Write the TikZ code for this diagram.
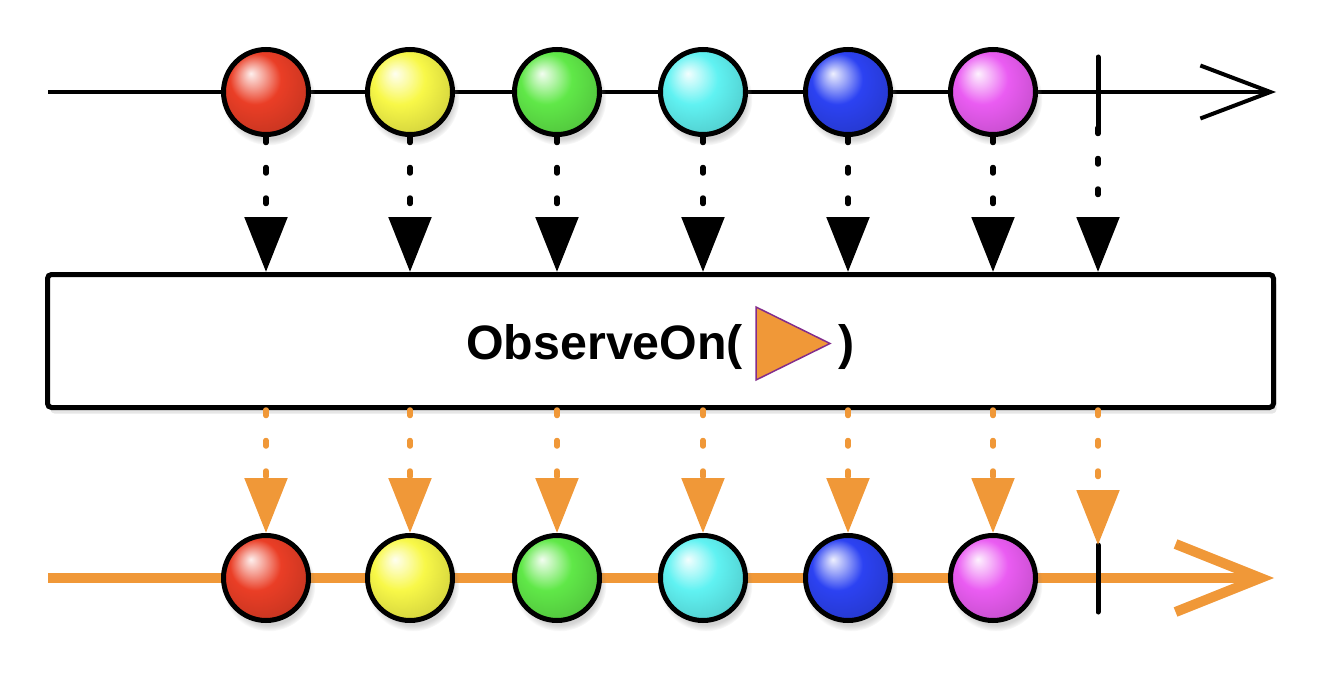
\documentclass[tikz,border=0pt]{standalone}
\usepackage{fontspec}
\setmainfont{Liberation Sans}
\usepackage{tikz}
\usetikzlibrary{arrows.meta,positioning,shadows}
\definecolor{sched}{RGB}{240,152,56}
\definecolor{schedrim}{RGB}{130,45,140}
\definecolor{bred}{RGB}{234,62,38}
\definecolor{byellow}{RGB}{248,248,72}
\definecolor{bgreen}{RGB}{96,232,72}
\definecolor{bcyan}{RGB}{96,242,242}
\definecolor{bblue}{RGB}{44,66,242}
\definecolor{bmagenta}{RGB}{234,92,242}
\colorlet{bcol}{red}
\pgfdeclareradialshading[bcol]{glossy}{\pgfqpoint{-9bp}{11bp}}{%
  color(0bp)=(bcol!8!white); color(7bp)=(bcol!50!white); color(15bp)=(bcol);
  color(28bp)=(bcol!88!black); color(40bp)=(bcol!65!black); color(50bp)=(bcol!60!black)}

\begin{document}
\begin{tikzpicture}[
  b/.style={circle, draw, line width=1mm, minimum size=17mm, inner sep=0pt,
    /utils/exec={\colorlet{bcol}{#1}}, shading=glossy,
    circular drop shadow={shadow xshift=0.5mm, shadow yshift=-1.2mm, opacity=0.35}},
  op/.style={draw, line width=1mm, rounded corners=0.8mm, fill=white,
    minimum width=24.52cm, minimum height=2.66cm,
    drop shadow={shadow xshift=0.6mm, shadow yshift=-1.2mm, opacity=0.2}},
  flow/.style={line width=1.1mm, dash pattern=on 1.1mm off 5mm, line cap=round,
    -{Triangle[length=11mm,width=8.4mm]}},
  stop/.style={line width=1mm, line cap=round},
  big/.style={font=\bfseries\fontsize{27.5}{30}\selectfont, inner sep=0pt, anchor=base west}
]
  \useasboundingbox (0,0) rectangle (26.56,-13.8);

  % source timeline
  \draw[line width=0.8mm, -{Straight Barb[length=14mm,width=10.6mm]}] (0.96,-1.84) -- (25.52,-1.84);
  \draw[stop] (21.96,-1.14) -- (21.96,-2.56) coordinate (inEnd);
  \node[b=bred]     (in1) at (5.32,-1.84) {};
  \node[b=byellow]  (in2) at (8.2,-1.84) {};
  \node[b=bgreen]   (in3) at (11.14,-1.84) {};
  \node[b=bcyan]    (in4) at (14.06,-1.84) {};
  \node[b=bblue]    (in5) at (16.96,-1.84) {};
  \node[b=bmagenta] (in6) at (19.86,-1.84) {};

  % operator
  \node[op] (op) at (13.21,-6.82) {};
  \node[big] (lbl) at (9.32,-7.18) {ObserveOn(};
  \draw[schedrim, fill=sched, line width=0.3mm] (15.12,-6.14) -- (16.6,-6.87) -- (15.12,-7.6) -- cycle;
  \node[big] (close) at (16.76,-7.18) {)};

  \draw[flow] (in1.south) -- (in1 |- op.north);
  \draw[flow] (in2.south) -- (in2 |- op.north);
  \draw[flow] (in3.south) -- (in3 |- op.north);
  \draw[flow] (in4.south) -- (in4 |- op.north);
  \draw[flow] (in5.south) -- (in5 |- op.north);
  \draw[flow] (in6.south) -- (in6 |- op.north);
  \draw[flow] (inEnd) -- (inEnd |- op.north);

  % result timeline
  \draw[sched, line width=2mm, -{Straight Barb[length=17mm,width=13.6mm]}] (0.96,-11.56) -- (25.48,-11.56);
  \draw[stop] (21.96,-10.9) coordinate (outEnd) -- (21.96,-12.24);
  \node[b=bred]     (out1) at (5.32,-11.56) {};
  \node[b=byellow]  (out2) at (8.2,-11.56) {};
  \node[b=bgreen]   (out3) at (11.14,-11.56) {};
  \node[b=bcyan]    (out4) at (14.06,-11.56) {};
  \node[b=bblue]    (out5) at (16.96,-11.56) {};
  \node[b=bmagenta] (out6) at (19.86,-11.56) {};

  \draw[flow, sched] (out1 |- op.south) -- (out1.north);
  \draw[flow, sched] (out2 |- op.south) -- (out2.north);
  \draw[flow, sched] (out3 |- op.south) -- (out3.north);
  \draw[flow, sched] (out4 |- op.south) -- (out4.north);
  \draw[flow, sched] (out5 |- op.south) -- (out5.north);
  \draw[flow, sched] (out6 |- op.south) -- (out6.north);
  \draw[flow, sched] (outEnd |- op.south) -- (outEnd);
\end{tikzpicture}
\end{document}
